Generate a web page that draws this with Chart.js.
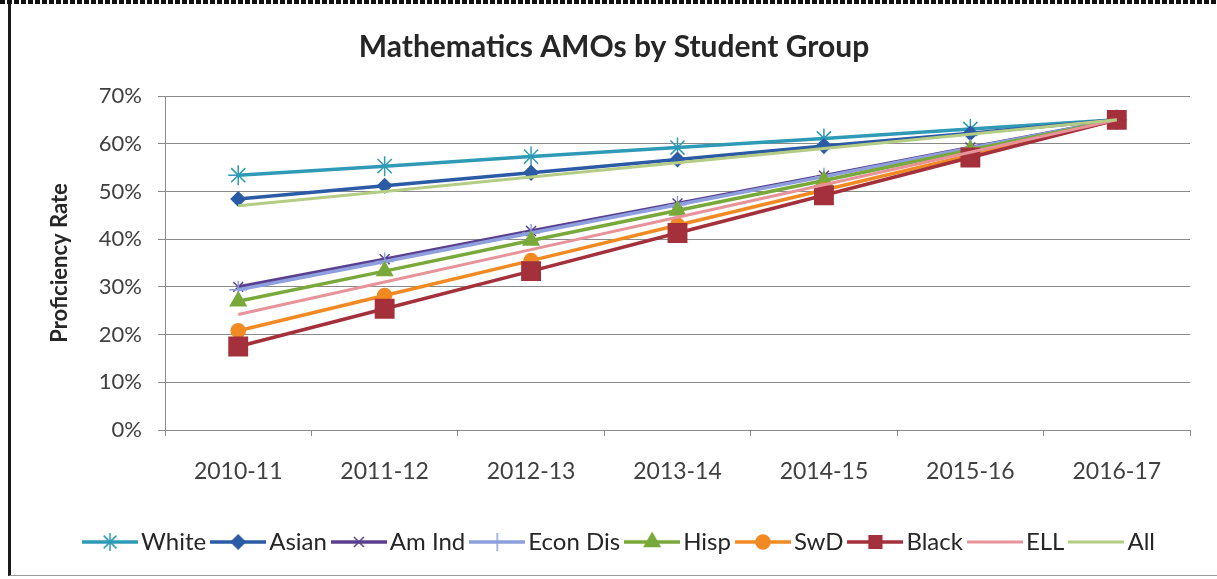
<!DOCTYPE html>
<html>
<head>
<meta charset="utf-8">
<title>Mathematics AMOs by Student Group</title>
<script src="https://cdn.jsdelivr.net/npm/chart.js@4/dist/chart.umd.min.js"></script>
<style>
    body { margin: 0; background: #ffffff; }
    #wrap { position: relative; width: 1217px; height: 579px; overflow: hidden; }
    /* dotted rule along the top edge */
    #rule_top { position: absolute; left: 0; top: 0; width: 1217px; height: 4px;
        background: repeating-linear-gradient(90deg, #111 0px, #111 5px, #fff 5px, #fff 7px); }
    #frame { position: absolute; left: 8px; top: 4px; width: 1209px; height: 572px;
        border-left: 3px solid #1a1a1a; border-bottom: 1px solid #9a9a9a; box-sizing: border-box; }
    #chart_amo { position: absolute; left: 0; top: 0; }
</style>
</head>
<body>
<div id="wrap">
    <div id="rule_top"></div>
    <div id="frame"></div>
    <canvas id="chart_amo" width="1217" height="579"></canvas>
</div>
<script>
'use strict';

/******************************************************************************************
DATA
******************************************************************************************/

var years = ['2010-11', '2011-12', '2012-13', '2013-14', '2014-15', '2015-16', '2016-17'];
var y_ticks = [0, 10, 20, 30, 40, 50, 60, 70];

var white    = [53.4, 55.3, 57.3, 59.2, 61.1, 63.1, 65.0];
var asian    = [48.4, 51.2, 53.9, 56.7, 59.5, 62.2, 65.0];
var am_ind   = [30.0, 35.8, 41.7, 47.5, 53.3, 59.2, 65.0];
var econ_dis = [29.4, 35.3, 41.3, 47.2, 53.1, 59.1, 65.0];
var hisp     = [27.0, 33.3, 39.7, 46.0, 52.3, 58.7, 65.0];
var swd      = [20.8, 28.2, 35.5, 42.9, 50.3, 57.6, 65.0];
var black    = [17.5, 25.4, 33.3, 41.3, 49.2, 57.1, 65.0];
var ell      = [24.2, 31.0, 37.8, 44.6, 51.4, 58.2, 65.0];
var all      = [47.0, 50.0, 53.0, 56.0, 59.0, 62.0, 65.0];

var group_names = ['White', 'Asian', 'Am Ind', 'Econ Dis', 'Hisp', 'SwD', 'Black', 'ELL', 'All'];


/******************************************************************************************
SERIES STYLES
******************************************************************************************/

var series = [
    { data: white,    color: '#2e9ab6', marker: 'star',     radius: 10, width: 3.5 },
    { data: asian,    color: '#2c5ba6', marker: 'rectRot',  radius: 7,  width: 3.5 },
    { data: am_ind,   color: '#5a3f8e', marker: 'crossRot', radius: 7,  width: 3.5 },
    { data: econ_dis, color: '#8d9fdc', marker: 'cross',    radius: 9,  width: 3.5 },
    { data: hisp,     color: '#78a93a', marker: 'triangle', radius: 9,  width: 3.5 },
    { data: swd,      color: '#f28a24', marker: 'circle',   radius: 7,  width: 3.5 },
    { data: black,    color: '#a3303a', marker: 'rect',     radius: 13, width: 3.5 },
    { data: ell,      color: '#e8929a', marker: false,      radius: 0,  width: 3 },
    { data: all,      color: '#b4cc84', marker: false,      radius: 0,  width: 3 }
];

var swatch_w = 56;

// small line + marker swatch for the legend
function make_swatch(s) {
    var c = document.createElement('canvas');
    c.width = swatch_w;
    c.height = 22;
    var ctx = c.getContext('2d');
    ctx.strokeStyle = s.color;
    ctx.lineWidth = s.width;
    ctx.beginPath();
    ctx.moveTo(0, 11);
    ctx.lineTo(swatch_w, 11);
    ctx.stroke();
    if (s.marker && Chart.helpers && Chart.helpers.drawPoint) {
        ctx.fillStyle = s.color;
        ctx.strokeStyle = s.color;
        ctx.lineWidth = 1.5;
        Chart.helpers.drawPoint(ctx, { pointStyle: s.marker, radius: Math.min(s.radius, 9), rotation: 0, borderWidth: 1.5 }, swatch_w / 2, 11);
    }
    return c;
}

var datasets = series.map(function(s, i) {
    return {
        label: group_names[i],
        data: s.data,
        borderColor: s.color,
        backgroundColor: s.color,
        borderWidth: s.width,
        pointStyle: s.marker,
        pointRadius: s.radius,
        pointBorderWidth: 1.5,
        pointBackgroundColor: s.color,
        pointBorderColor: s.color,
        tension: 0,
        order: -i,                       // later groups drawn on top
        swatch: make_swatch(s)
    };
});


/******************************************************************************************
PLOT
******************************************************************************************/

var font_family = 'Lato, "Open Sans", sans-serif';
var legend_font = 24;

// nudge title and legend a little to the right of the canvas centre
var shift_boxes = {
    id: 'shift_boxes',
    afterLayout: function(chart) {
        chart.titleBlock.left += 13;
        chart.titleBlock.right += 13;
        chart.legend.left += 22;
        chart.legend.right += 22;
    }
};

var ctx = document.getElementById('chart_amo').getContext('2d');
var amo_chart = new Chart(ctx, {
    type: 'line',
    data: { labels: years, datasets: datasets },
    plugins: [shift_boxes],
    options: {
        responsive: false,
        animation: false,
        devicePixelRatio: 1,
        layout: { padding: { left: 12, right: 27, top: 0, bottom: 15 } },
        plugins: {
            tooltip: { enabled: false },
            title: {
                display: true,
                text: 'Mathematics AMOs by Student Group',
                color: '#262626',
                font: { family: font_family, size: 30, weight: 'bold' },
                padding: { top: 29, bottom: 31 }
            },
            legend: {
                position: 'bottom',
                labels: {
                    usePointStyle: true,
                    // box narrower than the swatch so the text sits close to the line
                    pointStyleWidth: 38,
                    color: '#262626',
                    padding: 13,
                    font: { family: font_family, size: legend_font },
                    sort: function(a, b) { return a.datasetIndex - b.datasetIndex; },
                    generateLabels: function(chart) {
                        return chart.data.datasets.map(function(ds, i) {
                            return {
                                text: ds.label,
                                datasetIndex: i,
                                pointStyle: ds.swatch,
                                fillStyle: ds.borderColor,
                                strokeStyle: ds.borderColor,
                                lineWidth: 0,
                                fontColor: '#262626',
                                hidden: false
                            };
                        });
                    }
                }
            }
        },
        scales: {
            x: {
                offset: true,
                grid: {
                    offset: true,
                    drawOnChartArea: false,
                    drawTicks: true,
                    tickLength: 6,
                    color: '#8a8a8a'
                },
                border: { color: '#8a8a8a', width: 1 },
                ticks: {
                    color: '#404040',
                    padding: 22,
                    maxRotation: 0,
                    font: { family: font_family, size: 23 }
                },
                afterFit: function(scale) { scale.height = 87; }
            },
            y: {
                min: 0,
                max: 70,
                afterBuildTicks: function(scale) {
                    scale.ticks = y_ticks.map(function(v) { return { value: v }; });
                },
                grid: { color: '#8a8a8a', tickLength: 7, lineWidth: 1 },
                border: { color: '#8a8a8a', width: 1 },
                ticks: {
                    color: '#404040',
                    padding: 16,
                    font: { family: font_family, size: 22 },
                    // append unit to scale
                    callback: function(value) { return value + '%'; }
                },
                title: {
                    display: true,
                    text: 'Proficiency Rate',
                    color: '#262626',
                    padding: { top: 35, bottom: 0 },
                    font: { family: font_family, size: 22, weight: 'bold' }
                },
                afterFit: function(scale) { scale.width = 153; }
            }
        }
    }
});
</script>
</body>
</html>
